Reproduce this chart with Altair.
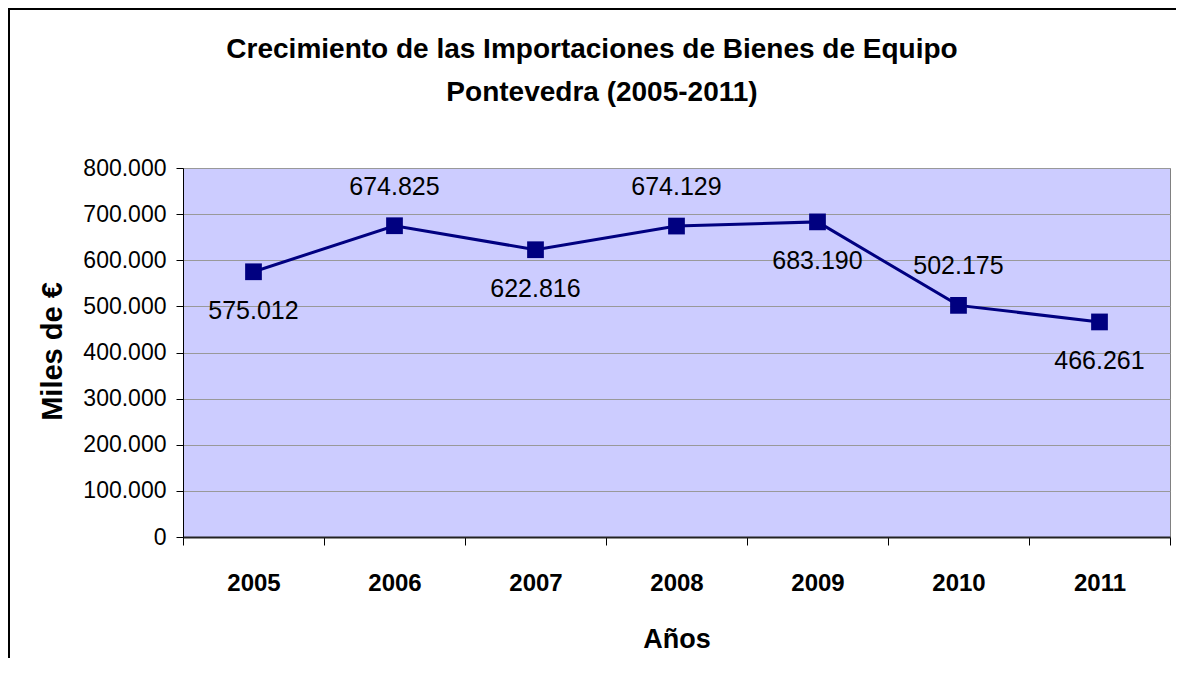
import altair as alt
import pandas as pd

years = ["2005", "2006", "2007", "2008", "2009", "2010", "2011"]
values = [575012, 674825, 622816, 674129, 683190, 502175, 466261]
labels_above = ["2006", "2008", "2010"]
y_ticks = [0, 100000, 200000, 300000, 400000, 500000, 600000, 700000, 800000]
title_line1 = "Crecimiento de las Importaciones de Bienes de Equipo"
title_line2 = "Pontevedra (2005-2011)"

df = pd.DataFrame({"Año": years, "Valor": values})

FONT = "Liberation Sans"
fmt_axis = "replace(format(datum.value, ',d'), ',', '.')"
fmt_label = "replace(format(datum.Valor, ',d'), ',', '.')"

x_enc = alt.X(
    "Año:N",
    title="Años",
    scale=alt.Scale(type="band", paddingInner=0, paddingOuter=0),
    axis=alt.Axis(
        labelAngle=0,
        labelFontSize=24,
        labelFontWeight="bold",
        labelFont=FONT,
        labelColor="black",
        labelPadding=26,
        tickBand="extent",
        tickSize=8,
        tickColor="black",
        domainColor="#222222",
        domainWidth=2,
        titleFontSize=27,
        titleFont=FONT,
        titleFontWeight="bold",
        titleColor="black",
        titleBaseline="alphabetic",
        titleY=110,
        grid=False,
    ),
)
y_enc = alt.Y(
    "Valor:Q",
    title="Miles de €",
    scale=alt.Scale(domain=[0, 800000], nice=False),
    axis=alt.Axis(
        values=y_ticks,
        labelExpr=fmt_axis,
        labelFontSize=23,
        labelFont=FONT,
        labelColor="black",
        labelPadding=10,
        tickSize=7,
        tickColor="black",
        domainColor="black",
        grid=True,
        gridColor="#999999",
        gridWidth=1,
        titleFontSize=29,
        titleFont=FONT,
        titleFontWeight="bold",
        titleColor="black",
        titleBaseline="alphabetic",
        titleX=-122,
        titleY=183,
        titleAngle=-90,
    ),
)

base = alt.Chart(df)

line = base.mark_line(color="#000080", strokeWidth=3).encode(x=x_enc, y=y_enc)
points = base.mark_point(shape="square", filled=True, size=280, color="#000080", opacity=1).encode(
    x="Año:N", y="Valor:Q"
)
text_above = (
    base.transform_filter(alt.FieldOneOfPredicate(field="Año", oneOf=labels_above))
    .transform_calculate(lbl=fmt_label)
    .mark_text(fontSize=25, font=FONT, color="black", dy=-39, baseline="middle")
    .encode(x="Año:N", y="Valor:Q", text="lbl:N")
)
text_below = (
    base.transform_filter(~alt.FieldOneOfPredicate(field="Año", oneOf=labels_above))
    .transform_calculate(lbl=fmt_label)
    .mark_text(fontSize=25, font=FONT, color="black", dy=39, baseline="middle")
    .encode(x="Año:N", y="Valor:Q", text="lbl:N")
)

one = pd.DataFrame({"k": [0]})
title1 = alt.Chart(one).mark_text(
    text=title_line1, fontSize=28, font=FONT, fontWeight="bold", color="black",
    align="center", baseline="alphabetic",
).encode(x=alt.value(409), y=alt.value(-110))
title2 = alt.Chart(one).mark_text(
    text=title_line2, fontSize=28, font=FONT, fontWeight="bold", color="black",
    align="center", baseline="alphabetic",
).encode(x=alt.value(419), y=alt.value(-67))

frame_left = alt.Chart(one).mark_rule(color="black", strokeWidth=2).encode(
    x=alt.value(-174), y=alt.value(-160), y2=alt.value(600)
)
frame_top = alt.Chart(one).mark_rule(color="black", strokeWidth=2).encode(
    y=alt.value(-159), x=alt.value(-175), x2=alt.value(1100)
)

chart = (
    alt.layer(line, points, text_above, text_below, title1, title2, frame_left, frame_top)
    .properties(
        width=987,
        height=369,
        padding={"left": 175, "top": 160, "right": 6, "bottom": 121},
        autosize=alt.AutoSizeParams(type="none"),
        view=alt.ViewBackground(fill="#CCCCFF", stroke="#808080", strokeWidth=1),
    )
    .configure_view(fill="#CCCCFF", stroke="#808080", strokeWidth=1)
    .configure(background="white")
)

chart.save("out.html", embed_options={"renderer": "svg", "actions": False})
